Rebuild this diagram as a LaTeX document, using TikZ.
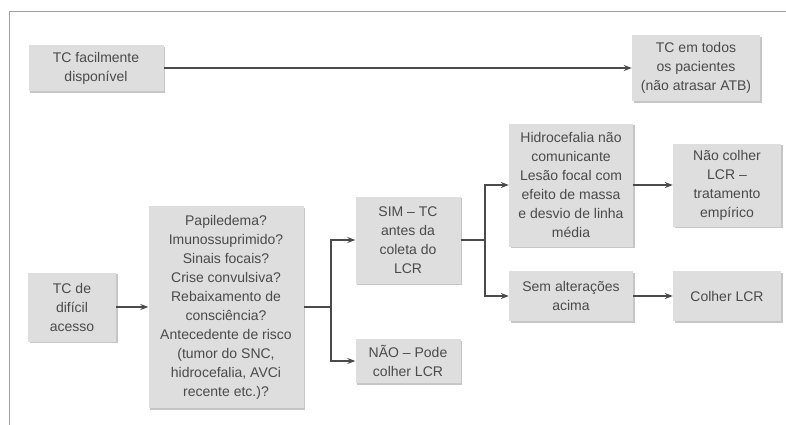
\documentclass[tikz,border=0pt]{standalone}
\usepackage{fontspec}
\setmainfont{Liberation Sans}
\usetikzlibrary{arrows.meta,shadows}
\definecolor{boxfill}{HTML}{DEDEDE}
\definecolor{boxshade}{HTML}{B8B8B8}
\definecolor{ink}{HTML}{4A4A4A}
\definecolor{framegray}{HTML}{A0A0A0}
\tikzset{
  box/.style={rectangle, fill=boxfill, text=ink, align=center, inner sep=2pt,
    font=\fontsize{14}{19}\selectfont,
    drop shadow={shadow xshift=1.8pt, shadow yshift=-1.8pt, fill=boxshade, opacity=0.8}},
  link/.style={draw=ink, line width=1.1pt},
  arr/.style={link, -{Stealth[length=8pt, width=6pt]}},
}
\begin{document}
\begin{tikzpicture}[x=1pt, y=-1pt]
  \useasboundingbox (0,0) rectangle (786,425);
  % outer frame, open to the right and bottom
  \draw[framegray, line width=1pt] (9,440) -- (9,12) -- (800,12);

  % boxes
  \node[box, minimum width=135pt, minimum height=46pt] (facil) at (96,68) {TC facilmente\\disponível};
  \node[box, minimum width=128pt, minimum height=66pt] (todos) at (696,68) {TC em todos\\os pacientes\\(não atrasar ATB)};
  \node[box, minimum width=88pt, minimum height=69pt] (dificil) at (72,307) {TC de\\difícil\\acesso};
  \node[box, minimum width=155pt, minimum height=202pt] (perg) at (226,307) {Papiledema?\\Imunossuprimido?\\Sinais focais?\\Crise convulsiva?\\Rebaixamento de\\consciência?\\Antecedente de risco\\(tumor do SNC,\\hidrocefalia, AVCi\\recente etc.)?};
  \node[box, minimum width=105pt, minimum height=87pt] (sim) at (408,240) {SIM – TC\\antes da\\coleta do\\LCR};
  \node[box, minimum width=105pt, minimum height=44pt] (nao) at (408,361) {NÃO – Pode\\colher LCR};
  \node[box, minimum width=124pt, minimum height=123pt] (hidro) at (571,185) {Hidrocefalia não\\comunicante\\Lesão focal com\\efeito de massa\\e desvio de linha\\média};
  \node[box, minimum width=108pt, minimum height=83pt] (naocolher) at (727,185) {Não colher\\LCR –\\tratamento\\empírico};
  \node[box, minimum width=124pt, minimum height=50pt] (sem) at (571,296) {Sem alterações\\acima};
  \node[box, minimum width=108pt, minimum height=50pt] (colher) at (727,296) {Colher LCR};

  % branch points
  \coordinate (f1) at (331,307);
  \coordinate (f2) at (485,240);

  % connectors
  \draw[arr] (facil) -- (todos);
  \draw[arr] (dificil) -- (perg);
  \draw[link] (perg.east) -- (f1);
  \draw[arr] (f1) |- (sim);
  \draw[arr] (f1) |- (nao);
  \draw[link] (sim.east) -- (f2);
  \draw[arr] (f2) |- (hidro);
  \draw[arr] (f2) |- (sem);
  \draw[arr] (hidro) -- (naocolher);
  \draw[arr] (sem) -- (colher);
\end{tikzpicture}
\end{document}
